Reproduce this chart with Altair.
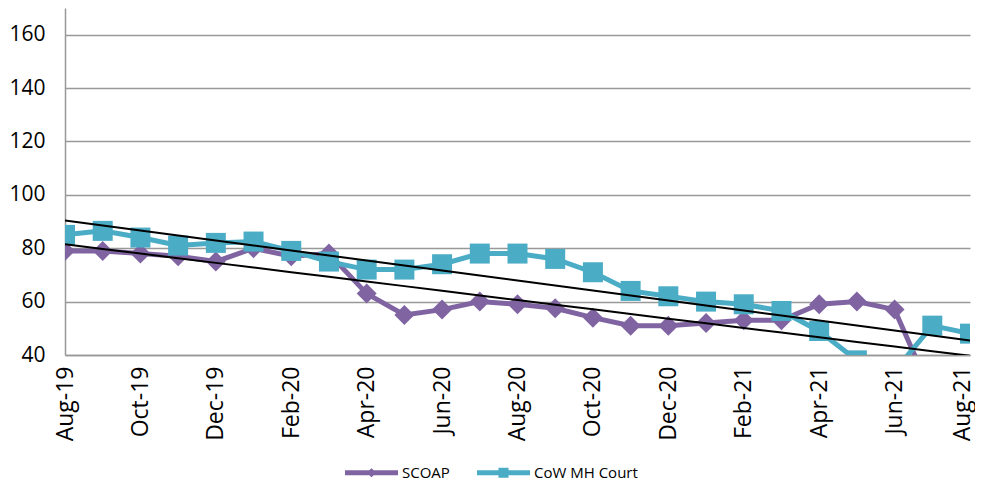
import json
import altair as alt
import pandas as pd

months = ["Aug-19", "Sep-19", "Oct-19", "Nov-19", "Dec-19", "Jan-20", "Feb-20", "Mar-20",
          "Apr-20", "May-20", "Jun-20", "Jul-20", "Aug-20", "Sep-20", "Oct-20", "Nov-20",
          "Dec-20", "Jan-21", "Feb-21", "Mar-21", "Apr-21", "May-21", "Jun-21", "Jul-21",
          "Aug-21"]
series_names = ["SCOAP", "CoW MH Court"]
scoap = [79, 79, 78, 77, 75, 80, 77, 78, 63, 55, 57, 60, 59, 57.5, 54, 51, 51, 52, 53, 53,
         59, 60, 57, 25, 25]
cow = [85, 86.5, 84, 81, 82, 82.5, 79, 75, 72, 72, 74, 78, 78, 76, 71, 64, 62, 60, 59, 56.5,
       49, 38, 34, 51, 48]
y_ticks = [40, 60, 80, 100, 120, 140, 160]
x_ticks = list(range(0, 25, 2))

colors = ["#8064A2", "#4BACC6"]
shapes = ["diamond", "square"]
legend_paths = [
    "M-1,-0.09H1V0.09H-1Z M-0.19,0L0,-0.17L0.19,0L0,0.17Z",
    "M-1,-0.09H1V0.09H-1Z M-0.19,-0.19H0.19V0.19H-0.19Z",
]

rows = []
for name, vals in zip(series_names, [scoap, cow]):
    for i, (m, v) in enumerate(zip(months, vals)):
        rows.append({"i": i, "month": m, "series": name, "v": v})
df = pd.DataFrame(rows)

FONT = "Open Sans"
GRID = "#999999"
last_i = len(months) - 1

x_scale = alt.Scale(domain=[0, last_i], nice=False, zero=False)
y_scale = alt.Scale(domain=[40, 170], nice=False, zero=False)

x_axis = alt.Axis(
    values=x_ticks,
    labelExpr=json.dumps(months) + "[datum.value]",
    labelAngle=-90,
    labelFont=FONT,
    labelFontSize=23,
    labelColor="black",
    labelPadding=11,
    labelOffset={"condition": {"test": f"datum.value == {last_i}", "value": -8}, "value": 0},
    labelOverlap=False,
    labelFlush=False,
    ticks=False,
    tickSize=0,
    grid=False,
    domainColor=GRID,
    domainWidth=1.5,
    title=None,
)
y_axis = alt.Axis(
    values=y_ticks,
    labelFont=FONT,
    labelFontSize=21,
    labelColor="black",
    labelPadding=20,
    ticks=False,
    tickSize=0,
    grid=True,
    gridColor=GRID,
    gridWidth=1.5,
    domainColor=GRID,
    domainWidth=1.5,
    title=None,
)
x_enc = alt.X("i:Q", scale=x_scale, axis=x_axis)
y_enc = alt.Y("v:Q", scale=y_scale, axis=y_axis)

base = alt.Chart(df)
layers = []
for name, color, shape in zip(series_names, colors, shapes):
    sub = base.transform_filter(alt.datum.series == name)
    layers.append(sub.mark_line(color=color, strokeWidth=5, clip=True).encode(x=x_enc, y=y_enc))
    layers.append(
        sub.mark_point(shape=shape, filled=True, size=400, color=color, opacity=1, clip=True)
        .encode(x=x_enc, y=y_enc)
    )

# linear least-squares trend line per series (Excel-style linear trendline)
trend = (
    base.transform_calculate(xy="datum.i * datum.v", xx="datum.i * datum.i")
    .transform_joinaggregate(
        sx="sum(i)", sy="sum(v)", sxy="sum(xy)", sxx="sum(xx)", n="count()",
        groupby=["series"],
    )
    .transform_calculate(
        slope="(datum.n * datum.sxy - datum.sx * datum.sy) / (datum.n * datum.sxx - datum.sx * datum.sx)"
    )
    .transform_calculate(fit="(datum.sy - datum.slope * datum.sx) / datum.n + datum.slope * datum.i")
    .mark_line(color="black", strokeWidth=2, clip=True)
    .encode(x=x_enc, y=alt.Y("fit:Q", scale=y_scale, axis=y_axis), detail="series:N")
)
layers.append(trend)

leg = dict(
    title=None,
    orient="none",
    legendX=280,
    legendY=438,
    direction="horizontal",
    symbolSize=2809,
    symbolStrokeWidth=0,
    labelFont=FONT,
    labelFontSize=15,
    labelColor="black",
    columnPadding=27,
    labelOffset=4,
)
legend_layer = (
    base.transform_filter("false")
    .mark_point(filled=True, opacity=1)
    .encode(
        color=alt.Color("series:N", scale=alt.Scale(domain=series_names, range=colors),
                        legend=alt.Legend(**leg)),
        shape=alt.Shape("series:N", scale=alt.Scale(domain=series_names, range=legend_paths),
                        legend=alt.Legend(**leg)),
    )
)
layers.append(legend_layer)

chart = (
    alt.layer(*layers)
    .properties(
        width=905,
        height=347,
        padding={"left": 57, "top": 0, "right": 5, "bottom": 130},
        autosize=alt.AutoSizeParams(type="none"),
        background="white",
    )
    .configure_view(stroke=None)
)

chart.save("out.html", embed_options={"renderer": "svg", "actions": False})
